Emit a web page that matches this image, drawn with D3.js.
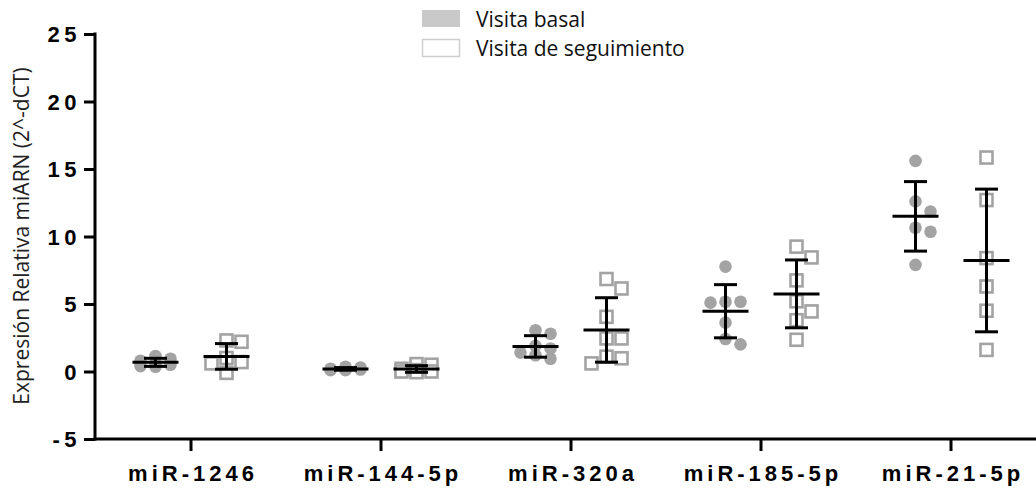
<!DOCTYPE html>
<html>
<head>
<meta charset="utf-8">
<script src="https://cdn.jsdelivr.net/npm/d3@7"></script>
<style>
  html, body { margin: 0; padding: 0; background: #fff; }
  svg { display: block; }
</style>
</head>
<body>
<div id="chart"></div>
<script>
// Categories and groups
const categories = ['miR-1246', 'miR-144-5p', 'miR-320a', 'miR-185-5p', 'miR-21-5p'];
const visitas = ['Visita basal', 'Visita de seguimiento'];
const yTicks = [-5, 0, 5, 10, 15, 20, 25];

// Individual values per category
const basal = [
  [1.15, 0.95, 0.8, 0.6, 0.5, 0.4, 0.35],
  [0.35, 0.3, 0.2, 0.15, 0.1, 0.1, 0.15],
  [3.05, 2.8, 1.9, 1.7, 1.4, 1.2, 0.95],
  [7.77, 5.17, 5.1, 5.17, 3.62, 2.01, 2.41],
  [15.6, 12.6, 11.85, 10.65, 10.35, 7.9]
];
const seguimiento = [
  [2.3, 2.2, 1.0, 0.7, 0.6, -0.1],
  [0.55, 0.5, 0.2, 0.1, 0.0, -0.05, 0.0],
  [6.85, 6.15, 4.05, 2.45, 2.45, 1.1, 0.98, 0.6],
  [9.25, 8.45, 6.75, 5.2, 4.45, 3.8, 2.35],
  [15.85, 12.7, 8.4, 6.3, 4.5, 1.6]
];

const width = 1036, height = 491;
const grey = '#a3a3a3';
const tickFont = '"Liberation Sans", Arial, sans-serif';
const textFont = '"Open Sans", "Noto Sans", sans-serif';

const svg = d3.select('#chart').append('svg')
  .attr('width', width)
  .attr('height', height);

const x = d3.scaleBand()
  .domain(categories)
  .range([96, 1046]);

const sub = d3.scalePoint()
  .domain(visitas)
  .range([-35.5, 35.5]);

const y = d3.scaleLinear()
  .domain([-5, 25])
  .range([439, 34]);

// simple beeswarm: spread points that would overlap
function swarm(values, diam, step, maxOff) {
  const order = values.map((v, i) => i).sort((a, b) => values[b] - values[a]);
  const cands = [0];
  for (let k = 1; k * step <= maxOff + 0.1; k++) cands.push(k * step, -k * step);
  const placed = [];
  const offs = new Array(values.length);
  order.forEach(i => {
    const py = y(values[i]);
    let best = 0, bestD = -1;
    for (const c of cands) {
      const d = placed.length ? d3.min(placed, p => Math.hypot(p.x - c, p.y - py)) : Infinity;
      if (d >= diam) { best = c; break; }
      if (d > bestD) { bestD = d; best = c; }
    }
    offs[i] = best;
    placed.push({ x: best, y: py });
  });
  return offs;
}

const groups = [];
categories.forEach((cat, ci) => {
  [basal[ci], seguimiento[ci]].forEach((vals, gi) => {
    const cx = x(cat) + x.bandwidth() / 2 + sub(visitas[gi]);
    const offs = swarm(vals, 13, 15, 15);
    groups.push({
      cat, gi, cx,
      points: vals.map((v, i) => ({ v, x: cx + offs[i] })),
      mean: d3.mean(vals),
      sd: d3.deviation(vals)
    });
  });
});

// points
const pts = svg.append('g');
groups.forEach(g => {
  if (g.gi === 0) {
    pts.selectAll(null)
      .data(g.points)
      .enter()
      .append('circle')
      .attr('cx', d => d.x)
      .attr('cy', d => y(d.v))
      .attr('r', 6.3)
      .style('fill', grey);
  } else {
    pts.selectAll(null)
      .data(g.points)
      .enter()
      .append('rect')
      .attr('x', d => d.x - 6)
      .attr('y', d => y(d.v) - 6)
      .attr('width', 12)
      .attr('height', 12)
      .style('fill', '#fff')
      .style('stroke', grey)
      .style('stroke-width', 2.6);
  }
});

// mean and SD bars
const bars = svg.append('g')
  .style('stroke', '#000')
  .style('stroke-width', 3);
groups.forEach(g => {
  bars.append('line')
    .attr('x1', g.cx).attr('x2', g.cx)
    .attr('y1', y(g.mean - g.sd)).attr('y2', y(g.mean + g.sd));
  [g.mean - g.sd, g.mean + g.sd].forEach(v => {
    bars.append('line')
      .attr('x1', g.cx - 11.5).attr('x2', g.cx + 11.5)
      .attr('y1', y(v)).attr('y2', y(v));
  });
  bars.append('line')
    .attr('x1', g.cx - 23).attr('x2', g.cx + 23)
    .attr('y1', y(g.mean)).attr('y2', y(g.mean));
});

// y axis
const yAxis = svg.append('g')
  .attr('transform', 'translate(95,0)')
  .call(d3.axisLeft(y).tickValues(yTicks).tickFormat(d => String(d))
    .tickSize(11).tickPadding(3).tickSizeOuter(0));
yAxis.select('.domain').style('stroke-width', 3).attr('d', `M0,${y(25) - 1.5}V${y(-5) + 1.5}`);
yAxis.selectAll('.tick line').style('stroke-width', 3);
yAxis.selectAll('.tick text')
  .style('font-family', tickFont)
  .style('font-weight', 'bold')
  .style('font-size', '22px')
  .style('letter-spacing', '4.5px')
  .attr('dy', '0.36em')
  .style('fill', '#000');

// x axis
const xAxis = svg.append('g')
  .attr('transform', `translate(0,${y(-5)})`)
  .call(d3.axisBottom(x).tickSize(12).tickPadding(14).tickSizeOuter(0));
xAxis.select('.domain').style('stroke-width', 3).attr('d', `M93.5,0H${width}`);
xAxis.selectAll('.tick line').style('stroke-width', 3);
xAxis.selectAll('.tick text')
  .style('font-family', tickFont)
  .style('font-weight', 'bold')
  .style('font-size', '22px')
  .style('letter-spacing', '4px')
  .attr('dx', 2)
  .style('fill', '#000');

// y axis title
svg.append('text')
  .attr('transform', `translate(29,236) rotate(-90)`)
  .attr('text-anchor', 'middle')
  .style('font-family', textFont)
  .style('font-size', '21px')
  .style('fill', '#222')
  .text('Expresión Relativa miARN (2^-dCT)');

// legend
const legend = svg.append('g')
  .selectAll('g')
  .data(visitas)
  .enter()
  .append('g')
  .attr('transform', (d, i) => `translate(422,${10 + i * 29})`);
legend.append('rect')
  .attr('x', (d, i) => i ? 0.5 : 0)
  .attr('y', (d, i) => i ? 0.5 : 0)
  .attr('width', (d, i) => i ? 37 : 38)
  .attr('height', 17)
  .style('fill', (d, i) => i ? '#fff' : '#c9c9c9')
  .style('stroke', (d, i) => i ? '#cfcfcf' : 'none')
  .style('stroke-width', 1.5);
legend.append('text')
  .attr('x', 54)
  .attr('y', 17)
  .style('font-family', textFont)
  .style('font-size', '21px')
  .style('fill', '#111')
  .text(d => d);
</script>
</body>
</html>
